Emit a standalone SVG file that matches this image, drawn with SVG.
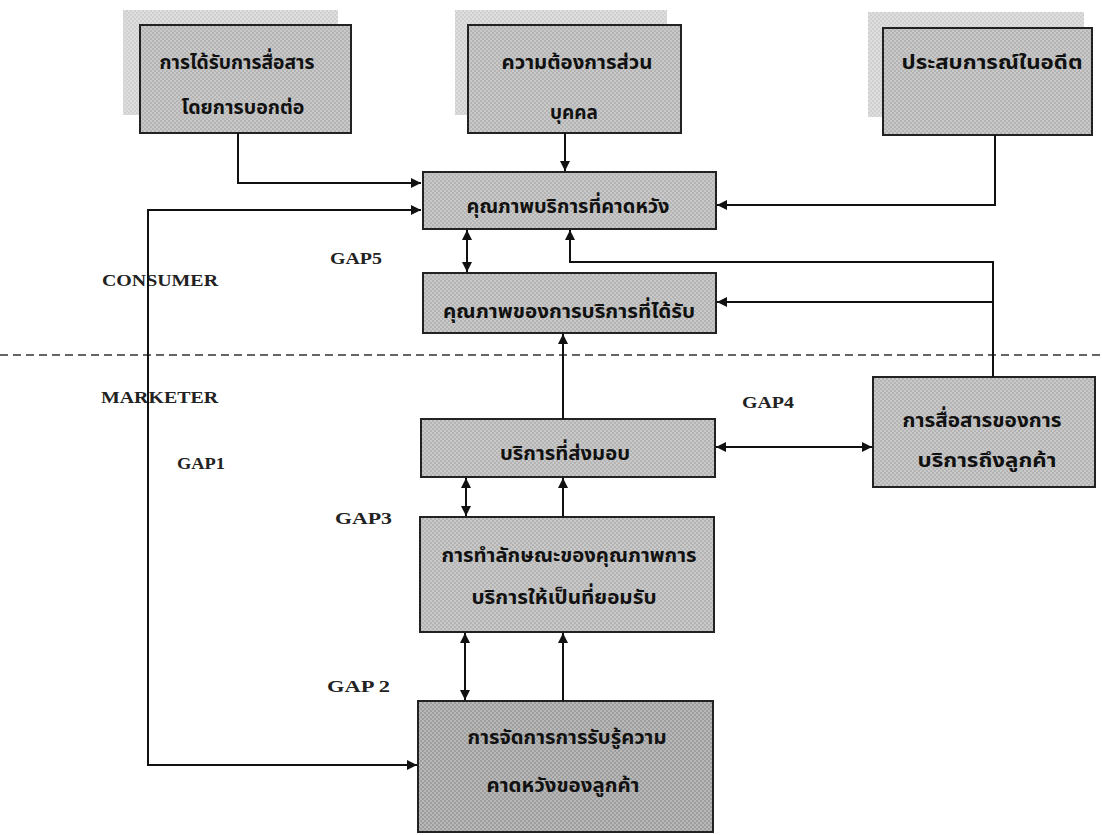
<svg xmlns="http://www.w3.org/2000/svg" width="1102" height="835" viewBox="0 0 1102 835">
<defs>
<pattern id="dither" width="4" height="4" patternUnits="userSpaceOnUse">
<rect width="4" height="4" fill="#c9c9c9"/>
<rect width="2" height="2" fill="#b4b4b4"/>
<rect x="2" y="2" width="2" height="2" fill="#b4b4b4"/>
</pattern>
<pattern id="ditherLight" width="4" height="4" patternUnits="userSpaceOnUse">
<rect width="4" height="4" fill="#dedede"/>
<rect width="2" height="2" fill="#d0d0d0"/>
<rect x="2" y="2" width="2" height="2" fill="#d0d0d0"/>
</pattern>
<pattern id="ditherDark" width="4" height="4" patternUnits="userSpaceOnUse">
<rect width="4" height="4" fill="#b8b8b8"/>
<rect width="2" height="2" fill="#9e9e9e"/>
<rect x="2" y="2" width="2" height="2" fill="#9e9e9e"/>
</pattern>
<marker id="arr" viewBox="0 0 10 10" refX="10" refY="5" markerWidth="10" markerHeight="10" markerUnits="userSpaceOnUse" orient="auto-start-reverse">
<path d="M0,0 L10,5 L0,10 z" fill="#111"/>
</marker>
</defs>
<style>
.box{fill:url(#dither);stroke:#222;stroke-width:2}
.dark{fill:url(#ditherDark);stroke:#222;stroke-width:2}
.shadow{fill:url(#ditherLight);stroke:none}
.th{font-family:"Noto Sans Thai","Noto Serif Thai","DejaVu Sans","Noto Sans",sans-serif;font-size:20px;fill:#111;text-anchor:middle;font-weight:bold}
.lbl{font-family:"Liberation Serif",serif;font-size:16px;fill:#222;font-weight:bold}
.c{fill:none;stroke:#111;stroke-width:2}
</style>
<rect width="1102" height="835" fill="#ffffff"/>

<g id="n-wom">
<rect class="shadow" x="123" y="10" width="215" height="105"/>
<rect class="box" x="140" y="25" width="211" height="108"/>
<text class="th" x="237" y="69" textLength="155" lengthAdjust="spacingAndGlyphs">การได้รับการสื่อสาร</text>
<text class="th" x="243" y="114" textLength="123" lengthAdjust="spacingAndGlyphs">โดยการบอกต่อ</text>
</g>
<g id="n-needs">
<rect class="shadow" x="455" y="10" width="212" height="105"/>
<rect class="box" x="468" y="25" width="213" height="108"/>
<text class="th" x="577" y="69" textLength="151" lengthAdjust="spacingAndGlyphs">ความต้องการส่วน</text>
<text class="th" x="574" y="119" textLength="48" lengthAdjust="spacingAndGlyphs">บุคคล</text>
</g>
<g id="n-past">
<rect class="shadow" x="868" y="12" width="216" height="105"/>
<rect class="box" x="883" y="28" width="209" height="107"/>
<text class="th" x="992" y="69" textLength="181" lengthAdjust="spacingAndGlyphs">ประสบการณ์ในอดีต</text>
</g>
<g id="n-expected">
<rect class="box" x="423" y="172" width="293" height="57"/>
<text class="th" x="568" y="213" textLength="203" lengthAdjust="spacingAndGlyphs">คุณภาพบริการที่คาดหวัง</text>
</g>
<g id="n-perceived">
<rect class="box" x="423" y="273" width="293" height="60"/>
<text class="th" x="569" y="318" textLength="252" lengthAdjust="spacingAndGlyphs">คุณภาพของการบริการที่ได้รับ</text>
</g>
<g id="n-delivery">
<rect class="box" x="421" y="419" width="294" height="58"/>
<text class="th" x="565" y="460" textLength="130" lengthAdjust="spacingAndGlyphs">บริการที่ส่งมอบ</text>
</g>
<g id="n-comm">
<rect class="box" x="873" y="377" width="222" height="110"/>
<text class="th" x="982" y="427" textLength="159" lengthAdjust="spacingAndGlyphs">การสื่อสารของการ</text>
<text class="th" x="987" y="467" textLength="139" lengthAdjust="spacingAndGlyphs">บริการถึงลูกค้า</text>
</g>
<g id="n-translation">
<rect class="box" x="420" y="517" width="294" height="115"/>
<text class="th" x="569" y="562" textLength="255" lengthAdjust="spacingAndGlyphs">การทำลักษณะของคุณภาพการ</text>
<text class="th" x="564" y="604" textLength="185" lengthAdjust="spacingAndGlyphs">บริการให้เป็นที่ยอมรับ</text>
</g>
<g id="n-management">
<rect class="dark" x="418" y="701" width="295" height="131"/>
<text class="th" x="567" y="744" textLength="199" lengthAdjust="spacingAndGlyphs">การจัดการการรับรู้ความ</text>
<text class="th" x="563" y="792" textLength="153" lengthAdjust="spacingAndGlyphs">คาดหวังของลูกค้า</text>
</g>

<g id="labels">
<text class="lbl" x="102" y="286" textLength="116" lengthAdjust="spacingAndGlyphs">CONSUMER</text>
<text class="lbl" x="101" y="403" textLength="117" lengthAdjust="spacingAndGlyphs">MARKETER</text>
<text class="lbl" x="330" y="264" textLength="52" lengthAdjust="spacingAndGlyphs">GAP5</text>
<text class="lbl" x="742" y="408" textLength="52" lengthAdjust="spacingAndGlyphs">GAP4</text>
<text class="lbl" x="177" y="469" textLength="48" lengthAdjust="spacingAndGlyphs">GAP1</text>
<text class="lbl" x="335" y="524" textLength="57" lengthAdjust="spacingAndGlyphs">GAP3</text>
<text class="lbl" x="327" y="692" textLength="63" lengthAdjust="spacingAndGlyphs">GAP 2</text>
</g>

<g id="connectors">
<line x1="0" y1="355" x2="1102" y2="355" stroke="#333" stroke-width="1.5" stroke-dasharray="8,5"/>
<path class="c" d="M238,133 V183 H421" marker-end="url(#arr)"/>
<path class="c" d="M565,133 V171" marker-end="url(#arr)"/>
<path class="c" d="M995,135 V205 H717" marker-end="url(#arr)"/>
<path class="c" d="M421,210 H148 V765 H417" marker-start="url(#arr)" marker-end="url(#arr)"/>
<path class="c" d="M467,230 V272" marker-start="url(#arr)" marker-end="url(#arr)"/>
<path class="c" d="M993,377 V262 H570 V230" marker-end="url(#arr)"/>
<path class="c" d="M993,302 H717" marker-end="url(#arr)"/>
<path class="c" d="M563,419 V334" marker-end="url(#arr)"/>
<path class="c" d="M716,447 H872" marker-start="url(#arr)" marker-end="url(#arr)"/>
<path class="c" d="M466,478 V516" marker-start="url(#arr)" marker-end="url(#arr)"/>
<path class="c" d="M563,517 V478" marker-end="url(#arr)"/>
<path class="c" d="M465,633 V700" marker-start="url(#arr)" marker-end="url(#arr)"/>
<path class="c" d="M563,701 V633" marker-end="url(#arr)"/>
</g>
</svg>
